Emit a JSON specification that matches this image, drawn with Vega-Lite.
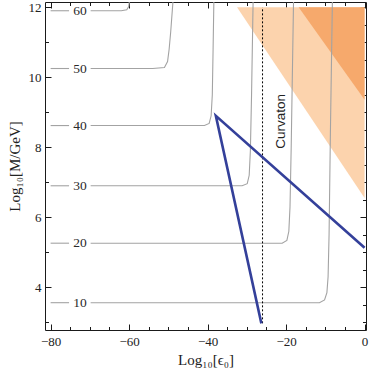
{
  "$schema": "https://vega.github.io/schema/vega-lite/v6.json",
  "autosize": "none",
  "width": 321,
  "height": 328,
  "padding": {"left": 45, "top": 2, "right": 7, "bottom": 41},
  "background": "white",
  "config": {
    "view": {"stroke": "#1a1a1a", "strokeWidth": 1},
    "font": "Liberation Serif",
    "axis": {
      "domain": false,
      "grid": false,
      "tickColor": "#1a1a1a",
      "tickWidth": 1,
      "labelFont": "Liberation Serif",
      "labelFontSize": 13,
      "labelColor": "#222222",
      "titleFont": "Liberation Serif",
      "titleFontSize": 15,
      "titleFontWeight": "normal",
      "titleColor": "#222222"
    }
  },
  "datasets": {
    "light": [
      {"x": -32.5, "lo": 12.0, "hi": 12.0},
      {"x": 0.0, "lo": 6.55, "hi": 12.0}
    ],
    "dark": [
      {"x": -16.8, "lo": 12.0, "hi": 12.0},
      {"x": 0.0, "lo": 9.36, "hi": 12.0}
    ],
    "contours": [
      {"c": "10", "s": "a", "o": 1, "x": -80, "y": 3.56},
      {"c": "10", "s": "a", "o": 2, "x": -75.3, "y": 3.56},
      {"c": "10", "s": "b", "o": 1, "x": -69.8, "y": 3.56},
      {"c": "10", "s": "b", "o": 2, "x": -11.5, "y": 3.56},
      {"c": "10", "s": "b", "o": 3, "x": -10.2, "y": 3.64},
      {"c": "10", "s": "b", "o": 4, "x": -9.6, "y": 3.85},
      {"c": "10", "s": "b", "o": 5, "x": -9.3, "y": 4.3},
      {"c": "10", "s": "b", "o": 6, "x": -9.05, "y": 5.5},
      {"c": "10", "s": "b", "o": 7, "x": -8.7, "y": 8.5},
      {"c": "10", "s": "b", "o": 8, "x": -8.2, "y": 12.2},
      {"c": "20", "s": "a", "o": 1, "x": -80, "y": 5.26},
      {"c": "20", "s": "a", "o": 2, "x": -75.3, "y": 5.26},
      {"c": "20", "s": "b", "o": 1, "x": -69.8, "y": 5.26},
      {"c": "20", "s": "b", "o": 2, "x": -21.0, "y": 5.26},
      {"c": "20", "s": "b", "o": 3, "x": -19.8, "y": 5.34},
      {"c": "20", "s": "b", "o": 4, "x": -19.3, "y": 5.6},
      {"c": "20", "s": "b", "o": 5, "x": -19.0, "y": 6.3},
      {"c": "20", "s": "b", "o": 6, "x": -18.7, "y": 8.0},
      {"c": "20", "s": "b", "o": 7, "x": -18.1, "y": 12.2},
      {"c": "30", "s": "a", "o": 1, "x": -80, "y": 6.9},
      {"c": "30", "s": "a", "o": 2, "x": -75.3, "y": 6.9},
      {"c": "30", "s": "b", "o": 1, "x": -69.8, "y": 6.9},
      {"c": "30", "s": "b", "o": 2, "x": -31.2, "y": 6.9},
      {"c": "30", "s": "b", "o": 3, "x": -29.9, "y": 6.96},
      {"c": "30", "s": "b", "o": 4, "x": -29.4, "y": 7.2},
      {"c": "30", "s": "b", "o": 5, "x": -29.1, "y": 7.9},
      {"c": "30", "s": "b", "o": 6, "x": -28.8, "y": 9.5},
      {"c": "30", "s": "b", "o": 7, "x": -28.4, "y": 12.2},
      {"c": "40", "s": "a", "o": 1, "x": -80, "y": 8.62},
      {"c": "40", "s": "a", "o": 2, "x": -75.3, "y": 8.62},
      {"c": "40", "s": "b", "o": 1, "x": -69.8, "y": 8.62},
      {"c": "40", "s": "b", "o": 2, "x": -40.8, "y": 8.62},
      {"c": "40", "s": "b", "o": 3, "x": -39.6, "y": 8.68},
      {"c": "40", "s": "b", "o": 4, "x": -39.1, "y": 8.9},
      {"c": "40", "s": "b", "o": 5, "x": -38.8, "y": 9.5},
      {"c": "40", "s": "b", "o": 6, "x": -38.6, "y": 10.8},
      {"c": "40", "s": "b", "o": 7, "x": -38.4, "y": 12.2},
      {"c": "50", "s": "a", "o": 1, "x": -80, "y": 10.25},
      {"c": "50", "s": "a", "o": 2, "x": -75.3, "y": 10.25},
      {"c": "50", "s": "b", "o": 1, "x": -69.8, "y": 10.25},
      {"c": "50", "s": "b", "o": 2, "x": -54.0, "y": 10.25},
      {"c": "50", "s": "b", "o": 3, "x": -51.0, "y": 10.28},
      {"c": "50", "s": "b", "o": 4, "x": -50.2, "y": 10.45},
      {"c": "50", "s": "b", "o": 5, "x": -49.8, "y": 10.8},
      {"c": "50", "s": "b", "o": 6, "x": -49.4, "y": 11.3},
      {"c": "50", "s": "b", "o": 7, "x": -48.8, "y": 12.2},
      {"c": "60", "s": "a", "o": 1, "x": -80, "y": 11.9},
      {"c": "60", "s": "a", "o": 2, "x": -75.3, "y": 11.9},
      {"c": "60", "s": "b", "o": 1, "x": -69.8, "y": 11.9},
      {"c": "60", "s": "b", "o": 2, "x": -62.0, "y": 11.9},
      {"c": "60", "s": "b", "o": 3, "x": -60.6, "y": 11.93},
      {"c": "60", "s": "b", "o": 4, "x": -60.1, "y": 12.02},
      {"c": "60", "s": "b", "o": 5, "x": -59.9, "y": 12.2}
    ],
    "labels": [
      {"label": "10", "x": -72.5, "y": 3.56},
      {"label": "20", "x": -72.5, "y": 5.26},
      {"label": "30", "x": -72.5, "y": 6.9},
      {"label": "40", "x": -72.5, "y": 8.62},
      {"label": "50", "x": -72.5, "y": 10.25},
      {"label": "60", "x": -72.5, "y": 11.9}
    ],
    "wedge": [
      {"o": 1, "x": -26.3, "y": 2.97},
      {"o": 2, "x": -37.9, "y": 8.9},
      {"o": 3, "x": 0.0, "y": 5.13}
    ],
    "dashed": [
      {"x": -26.0, "y0": 2.97, "y1": 12.0}
    ],
    "note": [
      {"text": "Curvaton", "x": -21.2, "y": 8.74}
    ]
  },
  "layer": [
    {
      "data": {"name": "light"},
      "mark": {"type": "area", "color": "#fcd3ad", "opacity": 1, "clip": true},
      "encoding": {
        "x": {
          "field": "x", "type": "quantitative",
          "scale": {"domain": [-81.43, 0.36], "nice": false, "zero": false},
          "axis": {
            "orient": "bottom",
            "title": "Log₁₀[ϵ₀]",
            "values": [-80, -75, -70, -65, -60, -55, -50, -45, -40, -35, -30, -25, -20, -15, -10, -5, 0],
            "format": "d",
            "labelExpr": "datum.value % 20 === 0 ? datum.label : ''",
            "tickSize": {"condition": {"test": "datum.value % 20 === 0", "value": -6}, "value": -3.5},
            "labelPadding": 11,
            "labelFlush": false,
            "labelOverlap": false,
            "titlePadding": 2
          }
        },
        "y": {
          "field": "lo", "type": "quantitative",
          "scale": {"domain": [2.78, 12.15], "nice": false, "zero": false},
          "axis": {
            "orient": "left",
            "title": "Log₁₀[M/GeV]",
            "values": [3, 3.5, 4, 4.5, 5, 5.5, 6, 6.5, 7, 7.5, 8, 8.5, 9, 9.5, 10, 10.5, 11, 11.5, 12],
            "format": "d",
            "labelExpr": "datum.value % 2 === 0 ? datum.label : ''",
            "tickSize": {"condition": {"test": "datum.value % 2 === 0", "value": -6}, "value": -3.5},
            "labelPadding": 10,
            "labelFlush": false,
            "labelOverlap": false,
            "titlePadding": 6
          }
        },
        "y2": {"field": "hi"}
      }
    },
    {
      "data": {"name": "dark"},
      "mark": {"type": "area", "color": "#f6a96c", "opacity": 1, "clip": true},
      "encoding": {
        "x": {
          "field": "x", "type": "quantitative",
          "axis": {
            "orient": "top",
            "title": null,
            "labels": false,
            "values": [-80, -75, -70, -65, -60, -55, -50, -45, -40, -35, -30, -25, -20, -15, -10, -5, 0],
            "tickSize": {"condition": {"test": "datum.value % 20 === 0", "value": -6}, "value": -3.5}
          }
        },
        "y": {
          "field": "lo", "type": "quantitative",
          "axis": {
            "orient": "right",
            "title": null,
            "labels": false,
            "values": [3, 3.5, 4, 4.5, 5, 5.5, 6, 6.5, 7, 7.5, 8, 8.5, 9, 9.5, 10, 10.5, 11, 11.5, 12],
            "tickSize": {"condition": {"test": "datum.value % 2 === 0", "value": -6}, "value": -3.5}
          }
        },
        "y2": {"field": "hi"}
      }
    },
    {
      "data": {"name": "contours"},
      "mark": {"type": "line", "color": "#a3a3a3", "strokeWidth": 1.1, "clip": true},
      "encoding": {
        "x": {"field": "x", "type": "quantitative", "axis": null},
        "y": {"field": "y", "type": "quantitative", "axis": null},
        "detail": [{"field": "c"}, {"field": "s"}],
        "order": {"field": "o"}
      }
    },
    {
      "data": {"name": "labels"},
      "mark": {"type": "text", "font": "Liberation Serif", "fontSize": 13.5, "color": "#2a2a2a", "align": "center", "baseline": "middle"},
      "encoding": {
        "x": {"field": "x", "type": "quantitative", "axis": null},
        "y": {"field": "y", "type": "quantitative", "axis": null},
        "text": {"field": "label"}
      }
    },
    {
      "data": {"name": "dashed"},
      "mark": {"type": "rule", "color": "#000000", "strokeWidth": 1, "strokeDash": [2, 2]},
      "encoding": {
        "x": {"field": "x", "type": "quantitative", "axis": null},
        "y": {"field": "y0", "type": "quantitative", "axis": null},
        "y2": {"field": "y1"}
      }
    },
    {
      "data": {"name": "wedge"},
      "mark": {"type": "line", "color": "#34409a", "strokeWidth": 2.6, "strokeJoin": "miter", "strokeMiterLimit": 20, "clip": true},
      "encoding": {
        "x": {"field": "x", "type": "quantitative", "axis": null},
        "y": {"field": "y", "type": "quantitative", "axis": null},
        "order": {"field": "o"}
      }
    },
    {
      "data": {"name": "note"},
      "mark": {"type": "text", "font": "Liberation Sans", "fontSize": 13.5, "color": "#222222", "angle": 270, "align": "center", "baseline": "middle"},
      "encoding": {
        "x": {"field": "x", "type": "quantitative", "axis": null},
        "y": {"field": "y", "type": "quantitative", "axis": null},
        "text": {"field": "text"}
      }
    }
  ],
  "resolve": {"axis": {"x": "independent", "y": "independent"}}
}
